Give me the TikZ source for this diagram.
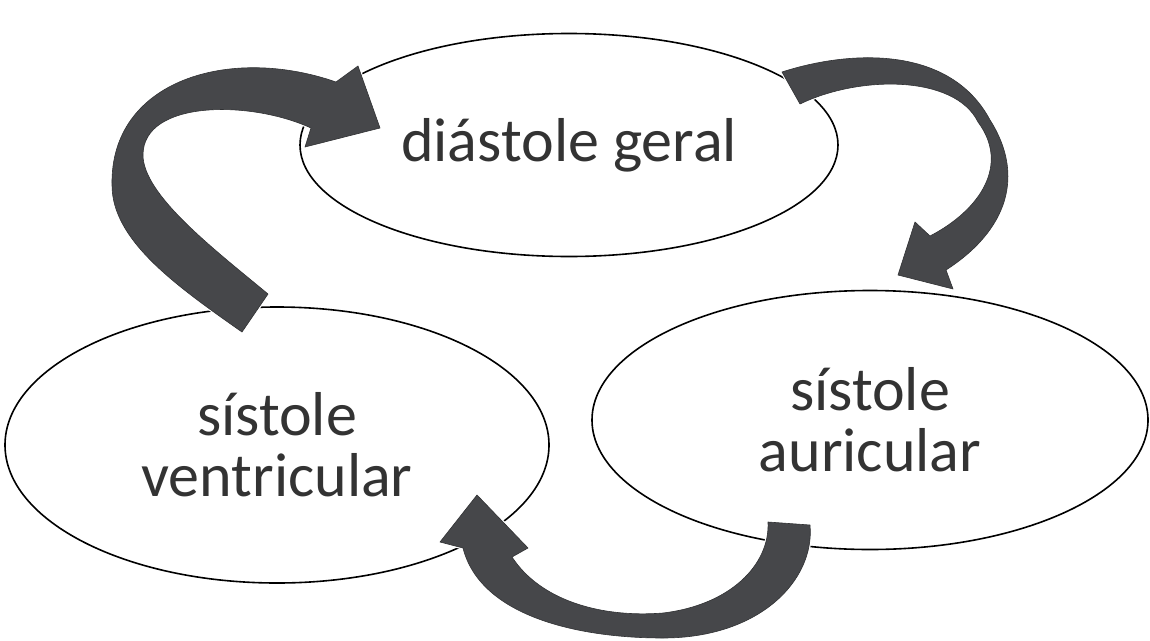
\documentclass[tikz,border=0pt]{standalone}
\usepackage{fontspec}
\setmainfont{Carlito}
\usetikzlibrary{shapes.geometric}
\definecolor{agray}{HTML}{46474A}
\definecolor{tgray}{HTML}{333333}
\begin{document}
\begin{tikzpicture}[x=1pt,y=-1pt,
  phase/.style={draw=black, line width=1.6pt, ellipse, inner sep=0pt, align=center,
    text=tgray, font=\fontsize{62}{61}\selectfont},
  bigarrow/.style={fill=agray, draw=agray!70!black, line width=0.6pt, line join=round,
    preaction={draw=white, line width=3pt}}]
\useasboundingbox (0,0) rectangle (1150,640);
\fill[white] (0,0) rectangle (1150,640);
\node[phase, minimum width=538pt, minimum height=223pt] (dg) at (569,145) {diástole geral};
\node[phase, minimum width=544pt, minimum height=276pt] (sv) at (277,445) {sístole\\ventricular};
\node[phase, minimum width=556pt, minimum height=259pt] (sa) at (870,420) {sístole\\auricular};
% sístole ventricular -> diástole geral
\path[bigarrow] (242,332) .. controls (175,285) and (112,240) .. (112,185)
  .. controls (110,80) and (230,45) .. (336,82)
  -- (358,66) -- (380,128) -- (305,147) -- (311,128)
  .. controls (250,100) and (143,100) .. (143,155)
  .. controls (143,195) and (215,250) .. (268,294) -- cycle;
% diástole geral -> sístole auricular
\path[bigarrow] (782,72) .. controls (850,50) and (950,45) .. (990,120)
  .. controls (1025,175) and (1008,230) .. (946,270)
  -- (953,289) -- (898,275) -- (915,222) -- (930,236)
  .. controls (980,210) and (1010,165) .. (978,122)
  .. controls (955,75) and (860,75) .. (800,104) -- cycle;
% sístole auricular -> sístole ventricular
\path[bigarrow] (810,525) .. controls (815,580) and (760,638) .. (663,638)
  .. controls (575,638) and (480,615) .. (463,548)
  -- (440,542) -- (477,495) -- (528,548) -- (512,557)
  .. controls (540,600) and (600,618) .. (663,613)
  .. controls (730,605) and (770,565) .. (768,522) -- cycle;
\end{tikzpicture}
\end{document}
